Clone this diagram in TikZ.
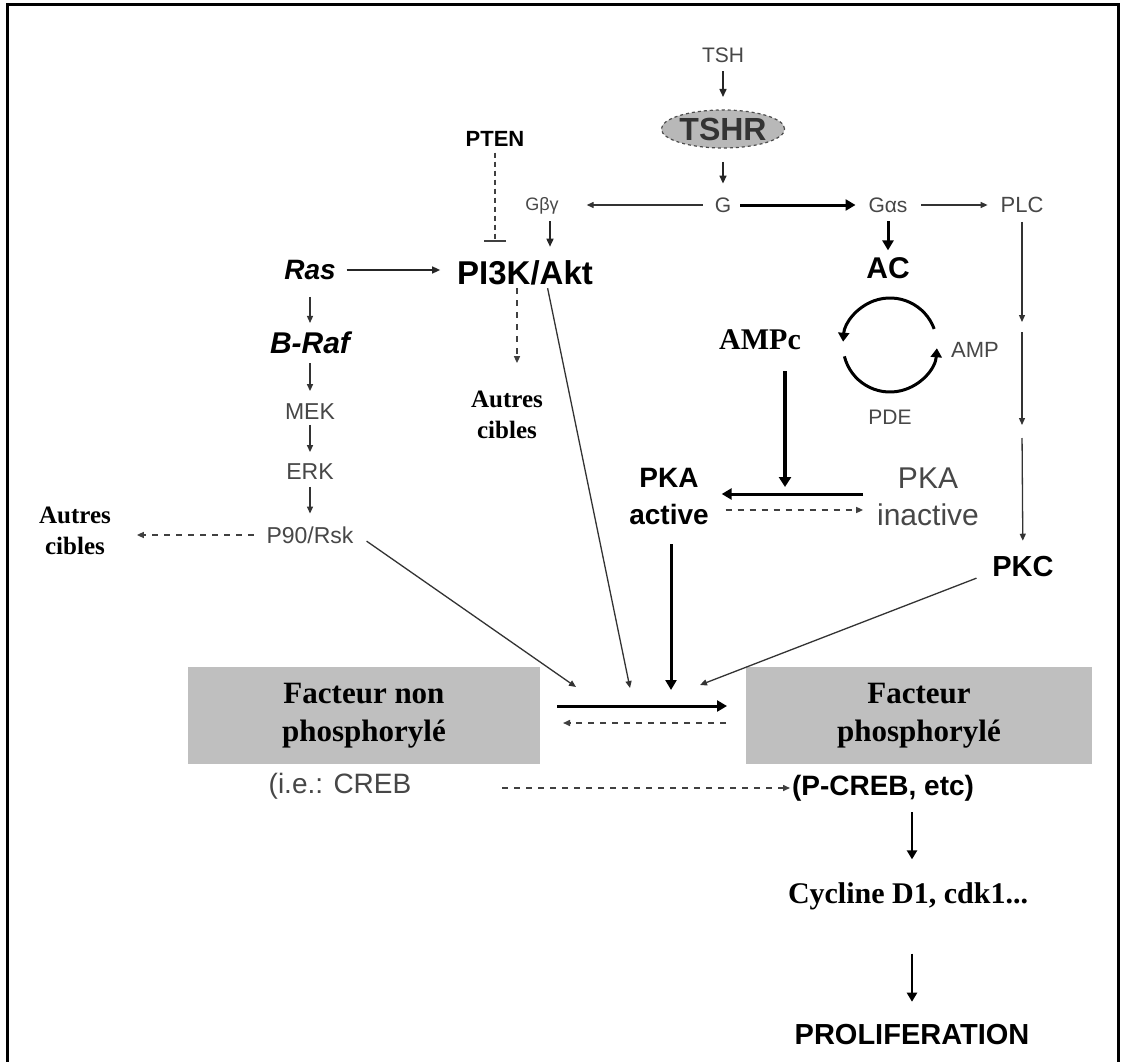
\documentclass[tikz,border=0pt]{standalone}
\usepackage{fontspec}
\setmainfont{Liberation Sans}
\newfontfamily\seriff{Liberation Serif}
\usetikzlibrary{arrows.meta,shapes.geometric}
\begin{document}
\begin{tikzpicture}[x=1pt,y=-1pt,
  every node/.style={inner sep=0pt, outer sep=0pt},
  gtxt/.style={text=black!72},
  btxt/.style={text=black},
  ln/.style={draw=black!80, line width=1.3pt, -{Triangle[length=7pt,width=6pt]}},
  lnk/.style={draw=black!85, line width=1.5pt, -{Triangle[length=8pt,width=7pt]}},
  thk/.style={draw=black, line width=3pt, -{Triangle[length=10pt,width=11pt]}},
  thkk/.style={draw=black, line width=2.5pt, -{Triangle[length=9pt,width=10pt]}},
  dsh/.style={draw=black!75, line width=1.5pt, dash pattern=on 6pt off 6pt, -{Triangle[length=7pt,width=6pt]}},
  boxx/.style={fill=black!25, minimum width=352pt, minimum height=97pt, align=center,
     font=\seriff\bfseries\fontsize{31}{38}\selectfont}
]
\useasboundingbox (0,0) rectangle (1122,1062);
\fill[white] (0,0) rectangle (1122,1062);
\draw[line width=3pt] (7,1062) -- (7,5) -- (1118,5) -- (1118,1062);

% top column
\node[gtxt, font=\fontsize{21}{21}\selectfont] (tsh) at (723,55) {TSH};
\node[ellipse, draw=black!70, dashed, line width=1.2pt, fill=black!28, minimum width=122pt,
      minimum height=38pt, text=black!80, font=\bfseries\fontsize{32}{32}\selectfont] (tshr) at (723,129) {TSHR};
\node[gtxt, font=\fontsize{21}{21}\selectfont] (g) at (723,205) {G};
\node[gtxt, font=\fontsize{18}{18}\selectfont] (gbg) at (542,206) {Gβγ};
\node[gtxt, font=\fontsize{21}{21}\selectfont] (gas) at (888,205) {Gαs};
\node[gtxt, font=\fontsize{22}{22}\selectfont] (plc) at (1022,205) {PLC};
\node[btxt, font=\bfseries\fontsize{22}{22}\selectfont] (pten) at (495,139) {PTEN};
\node[btxt, font=\bfseries\fontsize{33}{33}\selectfont] (pi3k) at (525,273) {PI3K/Akt};

% Ras column
\node[btxt, font=\bfseries\itshape\fontsize{28}{28}\selectfont] (ras) at (310,270) {Ras};
\node[btxt, font=\bfseries\itshape\fontsize{30}{30}\selectfont] (braf) at (310,343) {B-Raf};
\node[gtxt, font=\fontsize{23}{23}\selectfont] (mek) at (310,412) {MEK};
\node[gtxt, font=\fontsize{23}{23}\selectfont] (erk) at (310,472) {ERK};
\node[gtxt, font=\fontsize{23}{23}\selectfont] (p90) at (310,535) {P90/Rsk};
\node[btxt, align=center, font=\seriff\bfseries\fontsize{25}{31}\selectfont] (aut1) at (75,531) {Autres\\cibles};
\node[btxt, align=center, font=\seriff\bfseries\fontsize{25}{31}\selectfont] (aut2) at (507,415) {Autres\\cibles};

% cAMP part
\node[btxt, font=\bfseries\fontsize{30}{30}\selectfont] (ac) at (888,268) {AC};
\node[btxt, font=\seriff\bfseries\fontsize{30}{30}\selectfont] (ampc) at (760,340) {AMPc};
\node[gtxt, font=\fontsize{22}{22}\selectfont] (amp) at (975,350) {AMP};
\node[gtxt, font=\fontsize{21}{21}\selectfont] (pde) at (890,417) {PDE};
\node[btxt, align=center, font=\bfseries\fontsize{28}{37}\selectfont] (pkaa) at (669,497) {PKA\\active};
\node[gtxt, align=center, font=\fontsize{30}{37}\selectfont] (pkai) at (928,497) {PKA\\inactive};
\node[btxt, font=\bfseries\fontsize{29}{29}\selectfont] (pkc) at (1023,567) {PKC};

% boxes
\node[boxx] (box1) at (364,715.5) {Facteur non\\phosphorylé};
\node[boxx, minimum width=346pt] (box2) at (919,715.5) {Facteur\\phosphorylé};
\node[gtxt, font=\fontsize{28}{28}\selectfont] (creb) at (340,786) {(i.e.: CREB};
\node[btxt, anchor=west, font=\bfseries\fontsize{28}{28}\selectfont] (pcreb) at (792,788) {(P-CREB, etc)};
\node[btxt, font=\seriff\bfseries\fontsize{30}{30}\selectfont] (cyc) at (908,896) {Cycline D1, cdk1...};
\node[btxt, font=\bfseries\fontsize{29}{29}\selectfont] (prolif) at (912,1035) {PROLIFERATION};

% coordinates
\coordinate (cc) at (890,345);
\coordinate (k1) at (1022,327);
\coordinate (k2) at (1022,432);
\coordinate (junc) at (785,494);
\coordinate (hubA) at (576,687);
\coordinate (hubB) at (630,688);
\coordinate (hubC) at (671,690);
\coordinate (hubD) at (700,685);

% connectors top
\draw[lnk, shorten <=9pt, shorten >=13pt] (tsh) -- (tshr);
\draw[lnk, shorten <=14pt, shorten >=14pt] (tshr) -- (g);
\draw[ln, shorten <=12pt, shorten >=28pt] (g) -- (gbg.east |- g);
\draw[thk, shorten <=9pt, shorten >=13pt] (g) -- (gas.west |- g);
\draw[ln, shorten <=14pt, shorten >=13pt] (gas) -- (plc);
\draw[lnk, shorten <=7pt, shorten >=14pt] ([xshift=8pt]gbg.south) -- ([xshift=8pt]gbg.south |- pi3k.north);
\draw[draw=black!75, line width=1.3pt, dash pattern=on 5pt off 4pt, shorten <=6pt, shorten >=19pt,
      -{Bar[width=22pt,line width=1.3pt]}] (pten) -- (pten |- pi3k.north);
\draw[lnk, shorten <=11pt, shorten >=17pt] (ras.east) -- (ras.east -| pi3k.west);

% Ras column connectors
\draw[ln, shorten <=17pt, shorten >=9pt] (ras) -- (braf);
\draw[ln, shorten <=9pt, shorten >=13pt] (braf) -- (mek);
\draw[ln, shorten <=5pt, shorten >=12pt] (mek) -- (erk);
\draw[ln, shorten <=7pt, shorten >=13pt] (erk) -- (p90);
\draw[dsh, shorten <=13pt, shorten >=26pt] (p90.west) -- (p90.west -| aut1.east);
\draw[dsh, shorten <=3pt, shorten >=28pt] ([xshift=-8pt]pi3k.south) -- ([xshift=-8pt]pi3k.south |- aut2.north);

% lines to the centre
\draw[ln, shorten <=16pt] ([yshift=3pt]p90.east) -- (hubA);
\draw[ln, shorten <=3pt] ([xshift=22pt]pi3k.south) -- (hubB);
\draw[ln, shorten <=17pt] ([yshift=-5pt]pkc.west) -- (hubD);
\draw[thk, shorten <=19pt] (pkaa.south -| hubC) -- (hubC);

% AC cycle
\draw[thk, shorten <=9pt, shorten >=7pt] (gas) -- (ac);
\draw[line width=3pt, -{Triangle[length=9pt,width=11pt]}] ([shift={(20:47pt)}]cc) arc[start angle=20, end angle=176, radius=47pt];
\draw[line width=3pt, -{Triangle[length=9pt,width=11pt]}] ([shift={(194:47pt)}]cc) arc[start angle=194, end angle=356, radius=47pt];

% PKA
\draw[draw=black, line width=4pt, -{Triangle[length=10pt,width=12pt]}, shorten <=21pt, shorten >=7pt] ([xshift=25pt]ampc.south) -- (junc);
\draw[thk, shorten <=14pt, shorten >=13pt] ([yshift=3pt]pkai.west) -- ([yshift=3pt]pkaa.east);
\draw[dsh, shorten <=17pt, shorten >=14pt] ([yshift=-13pt]pkaa.east) -- ([yshift=-13pt]pkai.west);

% PLC chain
\draw[ln, shorten <=9pt, shorten >=5pt] (plc) -- (k1);
\draw[ln, shorten <=5pt, shorten >=7pt] (k1) -- (k2);
\draw[ln, shorten <=6pt, shorten >=16pt] (k2) -- (pkc);

% factor conversion
\draw[thk, shorten <=17pt, shorten >=19pt] ([yshift=9.5pt]box1.east) -- ([yshift=9.5pt]box2.west);
\draw[dsh, shorten <=20pt, shorten >=23pt] ([yshift=-7.5pt]box2.west) -- ([yshift=-7.5pt]box1.east);
\draw[dsh, shorten <=91pt, shorten >=2pt] (creb.east |- pcreb.west) -- (pcreb.west);
\draw[thkk, shorten <=11pt, shorten >=23pt] (pcreb.south -| prolif.north) -- (cyc.north -| prolif.north);
\draw[thkk, shorten <=44pt, shorten >=23pt] (cyc.south -| prolif.north) -- (prolif.north);
\end{tikzpicture}
\end{document}
